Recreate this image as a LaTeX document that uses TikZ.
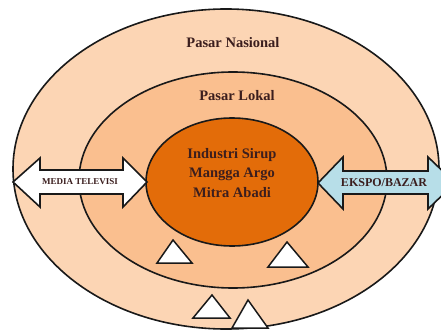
\documentclass[tikz,border=0pt]{standalone}
\usepackage{fontspec}
\setmainfont{Liberation Serif}
\usetikzlibrary{shapes.geometric}

\definecolor{nasional}{HTML}{FCD5B4}
\definecolor{lokal}{HTML}{FABF8F}
\definecolor{industri}{HTML}{E36C09}
\definecolor{ekspo}{HTML}{B7DEE8}
\definecolor{tulisan}{HTML}{3B1E1E}

\tikzset{
  ring/.style={ellipse, draw=black!90, line width=1.6pt, inner sep=0pt},
  panah/.style={draw=black!90, line width=1.6pt, line join=miter},
  segitiga/.style={draw=black!90, fill=white, line width=1.5pt, line join=miter},
  label/.style={text=tulisan, font=\bfseries\fontsize{14.5}{19.5}\selectfont, align=center}
}

\begin{document}
\begin{tikzpicture}[x=1pt,y=-1pt]
\clip (0,0) rectangle (441,331);
\fill[white] (0,0) rectangle (441,331);

% nodes
\node[ring, fill=nasional, minimum width=426pt, minimum height=320pt] (nasional) at (226,169) {};
\node[ring, fill=lokal, minimum width=308pt, minimum height=216pt] (lokal) at (233,180) {};
\node[ring, fill=industri, minimum width=172pt, minimum height=128pt] (industri) at (232,182) {};

% arrows
\draw[panah, fill=white] (13,182) -- (40,158) -- (40,170) -- (123,170) -- (123,158) -- (147,182)
  -- (123,207) -- (123,194) -- (40,194) -- (40,207) -- cycle;
\draw[panah, fill=ekspo] (318,183) -- (343,157) -- (343,171) -- (428,171) -- (428,157) -- (455,183)
  -- (428,209) -- (428,194) -- (343,194) -- (343,209) -- cycle;

% triangles
\draw[segitiga] (157,263) -- (173,240) -- (192,263) -- cycle;
\draw[segitiga] (268,267) -- (287,242) -- (308,267) -- cycle;
\draw[segitiga] (193,318) -- (212,295) -- (230,318) -- cycle;
\draw[segitiga] (232,328) -- (248,300) -- (268,328) -- cycle;

% labels
\node[label] (lblnasional) at (233,43) {Pasar Nasional};
\node[label] (lbllokal) at (237,96) {Pasar Lokal};
\node[label] (lblindustri) at (232,173) {Industri Sirup\\Mangga Argo\\Mitra Abadi};
\node[label, font=\bfseries\fontsize{9}{10}\selectfont] (media) at (80,182) {MEDIA TELEVISI};
\node[label, font=\bfseries\fontsize{12}{13}\selectfont] (ekspobazar) at (384,183) {EKSPO/BAZAR};
\end{tikzpicture}
\end{document}
